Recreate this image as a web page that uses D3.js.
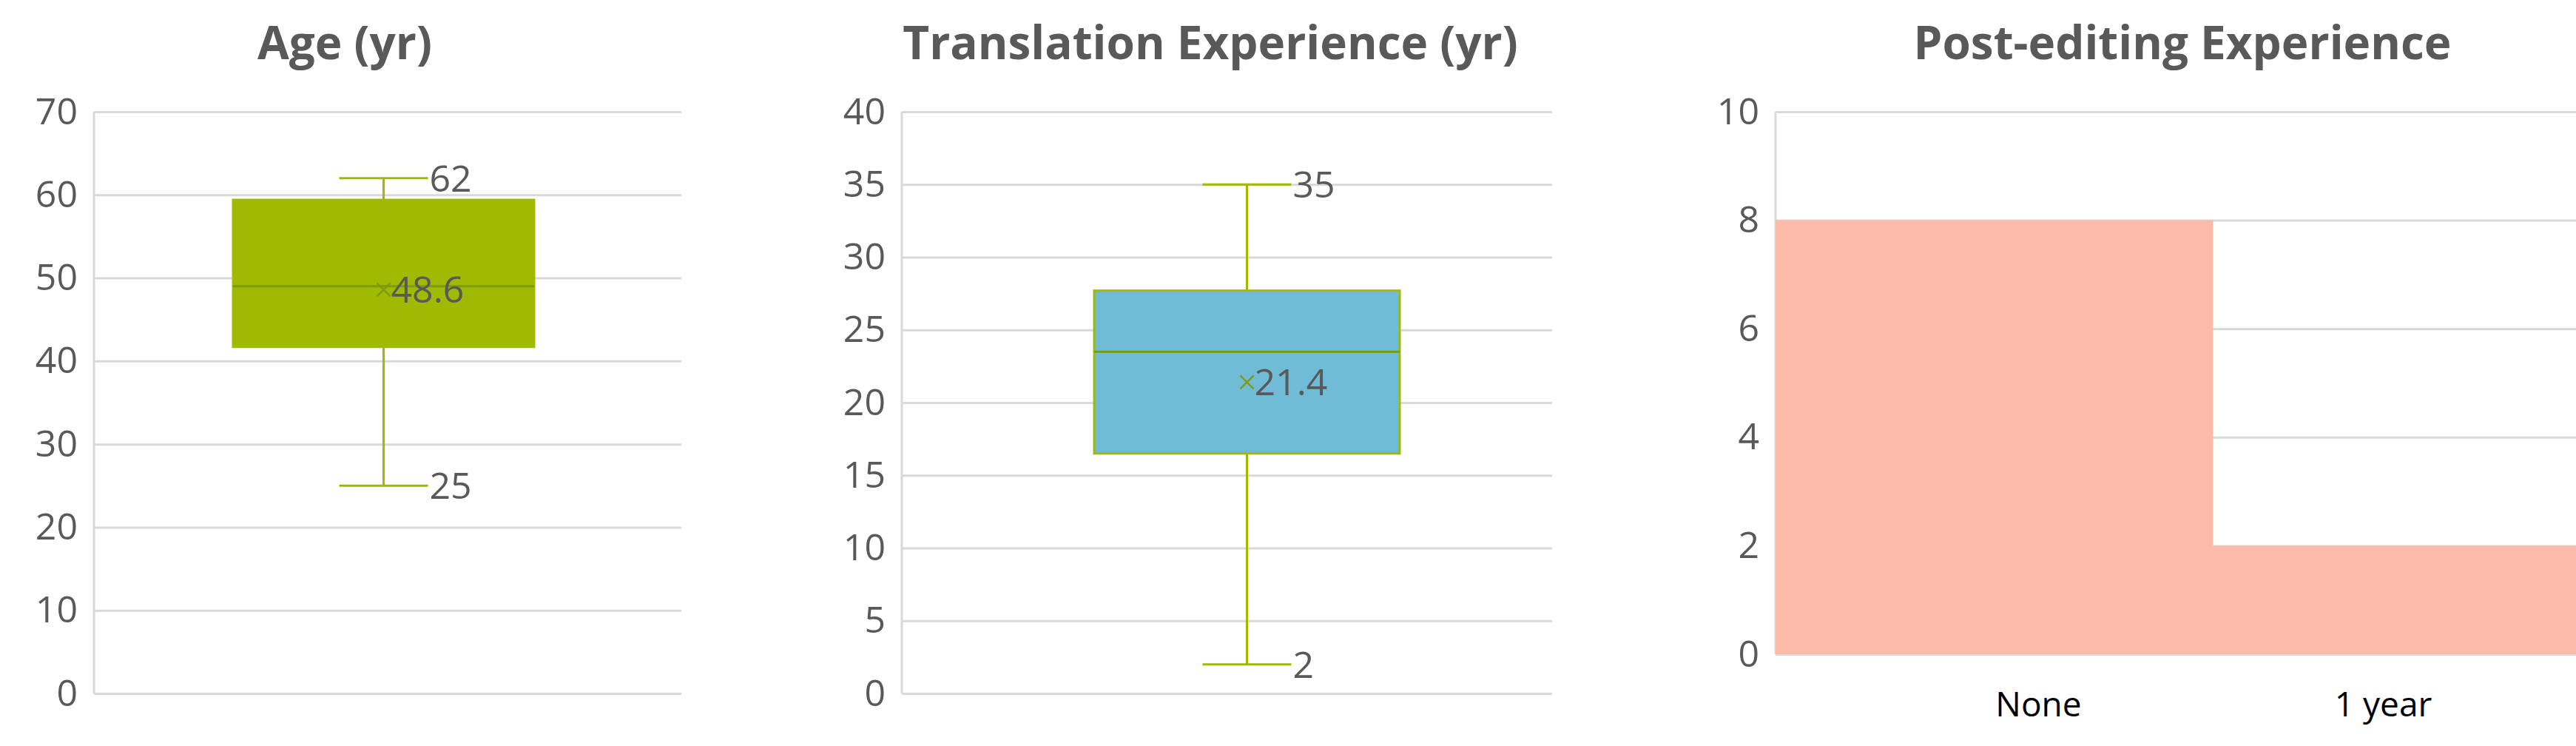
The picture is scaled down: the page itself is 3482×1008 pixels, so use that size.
<!DOCTYPE html>
<html><head><meta charset="utf-8">
<script src="https://cdn.jsdelivr.net/npm/d3@7"></script>
<style>body{margin:0;background:#fff;overflow:hidden}text{font-family:"Open Sans",sans-serif}</style>
</head><body><svg id="c" width="3482" height="1008"></svg>
<script>
const ageStats = { min: 25, q1: 41.7, median: 49, q3: 59.4, max: 62, mean: 48.6 };
const transStats = { min: 2, q1: 16.5, median: 23.5, q3: 27.7, max: 35, mean: 21.4 };
const ageTicks = [0, 10, 20, 30, 40, 50, 60, 70];
const transTicks = [0, 5, 10, 15, 20, 25, 30, 35, 40];
const peCategories = ["None", "1 year"];
const peValues = [8, 2];
const peTicks = [0, 2, 4, 6, 8, 10];

const svg = d3.select("#c");
const grey = "#595959", grid = "#d9d9d9";

function frame(x0, x1, y0, y1, dom, ticks, title, tcx) {
  const y = d3.scaleLinear().domain(dom).range([y1, y0]);
  const g = svg.append("g");
  g.append("text").attr("x", tcx).attr("y", 80).attr("text-anchor", "middle")
    .attr("font-size", 62).attr("font-weight", "bold").attr("fill", grey).text(title);
  const ax = g.append("g").attr("transform", `translate(${x0},0)`)
    .call(d3.axisLeft(y).tickValues(ticks).tickSize(-(x1 - x0)).tickPadding(22));
  ax.select(".domain").remove();
  ax.selectAll("line").attr("stroke", grid).attr("stroke-width", 3);
  ax.selectAll("text").attr("font-size", 50).attr("fill", grey).attr("font-family", "Open Sans");
  g.append("line").attr("x1", x0).attr("x2", x0).attr("y1", y0).attr("y2", y1).attr("stroke", grid).attr("stroke-width", 3);
  return { g, y };
}

function box(s, x0, x1, y0, y1, dom, ticks, title, tcx, bx0, bx1, fill) {
  const { g, y } = frame(x0, x1, y0, y1, dom, ticks, title, tcx);
  const cx = (bx0 + bx1) / 2, stroke = "#9fba00";
  g.append("line").attr("x1", cx).attr("x2", cx).attr("y1", y(s.max)).attr("y2", y(s.min)).attr("stroke", stroke).attr("stroke-width", 3);
  [s.max, s.min].forEach(v => {
    g.append("line").attr("x1", cx - 60).attr("x2", cx + 60).attr("y1", y(v)).attr("y2", y(v)).attr("stroke", stroke).attr("stroke-width", 3);
    g.append("text").attr("x", cx + 62).attr("y", y(v)).attr("dy", "0.36em").attr("font-size", 50).attr("fill", grey).text(v);
  });
  g.append("rect").attr("x", bx0).attr("width", bx1 - bx0).attr("y", y(s.q3)).attr("height", y(s.q1) - y(s.q3))
    .attr("fill", fill).attr("stroke", stroke).attr("stroke-width", 3);
  g.append("line").attr("x1", bx0).attr("x2", bx1).attr("y1", y(s.median)).attr("y2", y(s.median)).attr("stroke", "#7f9a10").attr("stroke-width", 3);
  const my = y(s.mean);
  g.append("path").attr("d", `M${cx - 9},${my - 9}L${cx + 9},${my + 9}M${cx - 9},${my + 9}L${cx + 9},${my - 9}`)
    .attr("stroke", "#7f9a10").attr("stroke-width", 2.5);
  g.append("text").attr("x", cx + 10).attr("y", my).attr("dy", "0.36em").attr("font-size", 50).attr("fill", grey).text(s.mean);
}

box(ageStats, 127, 921, 151, 937, [0, 70], ageTicks, "Age (yr)", 466, 315, 722, "#9fba00");
box(transStats, 1219, 2098, 151, 937, [0, 40], transTicks, "Translation Experience (yr)", 1636, 1479, 1892, "#70bbd6");

// plot area runs past the right edge of the picture (clipped)
const pe = frame(2400, 3582, 151, 884, [0, 10], peTicks, "Post-editing Experience", 2950);
const x = d3.scaleBand().domain(peCategories).range([2400, 3582]).padding(0);
pe.g.selectAll("rect.bar").data(peValues).join("rect").attr("class", "bar")
  .attr("x", (d, i) => x(peCategories[i])).attr("width", x.bandwidth() + 0.5)
  .attr("y", d => pe.y(d)).attr("height", d => pe.y(0) - pe.y(d)).attr("fill", "#fcbba9");
pe.g.selectAll("text.cat").data(peCategories).join("text").attr("class", "cat")
  .attr("x", (d, i) => x(d) + x.bandwidth() / 2 + (i ? -65 : 60)).attr("y", 968).attr("text-anchor", "middle")
  .attr("font-size", 46).attr("fill", "#000").text(d => d);
</script></body></html>
